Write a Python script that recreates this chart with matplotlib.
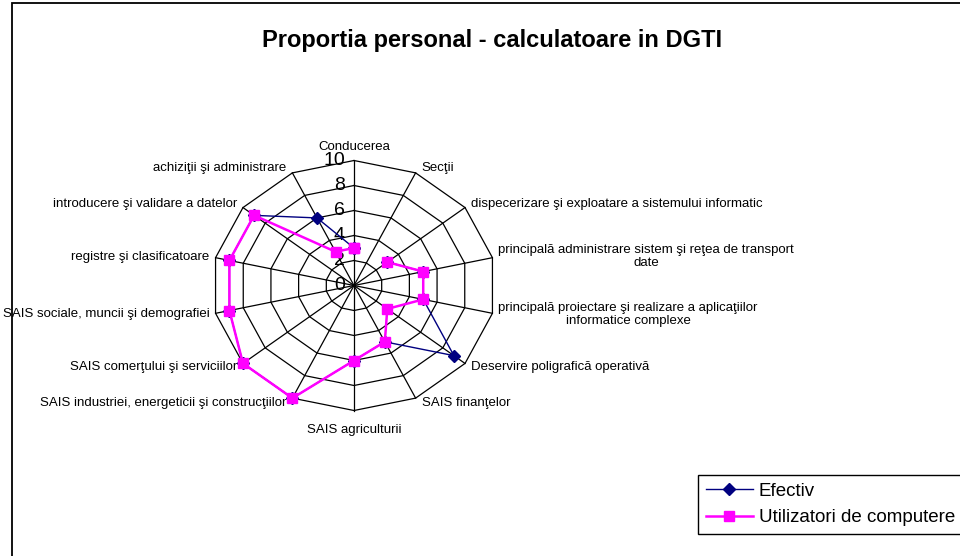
import numpy as np
import matplotlib
matplotlib.use('Agg')
import matplotlib.pyplot as plt
from matplotlib.patches import Rectangle
from matplotlib.lines import Line2D

categories = [
    "Conducerea",
    "Secţii",
    "dispecerizare şi exploatare a sistemului informatic",
    "principală administrare sistem şi reţea de transport\ndate",
    "principală proiectare şi realizare a aplicaţiilor\ninformatice complexe",
    "Deservire poligrafică operativă",
    "SAIS finanţelor",
    "SAIS agriculturii",
    "SAIS industriei, energeticii şi construcţiilor",
    "SAIS comerţului şi serviciilor",
    "SAIS sociale, muncii şi demografiei",
    "registre şi clasificatoare",
    "introducere şi validare a datelor",
    "achiziţii şi administrare",
]
# Secţii has no value (gap in the lines)
efectiv = [3, None, 3, 5, 5, 9, 5, 6, 10, 10, 9, 9, 9, 6]
utilizatori = [3, None, 3, 5, 5, 3, 5, 6, 10, 10, 9, 9, 9, 3]
tick_values = [0, 2, 4, 6, 8, 10]
series_names = ["Efectiv", "Utilizatori de computere"]
title = "Proportia personal - calculatoare in DGTI"

plt.rcParams['font.family'] = ['Liberation Sans', 'DejaVu Sans']

W, H = 960, 556
fig = plt.figure(figsize=(W / 100, H / 100), dpi=100)
fig.patch.set_facecolor('white')

cx, cy, rx, ry = 354, 285.5, 142, 125
ax = fig.add_axes([(cx - rx) / W, (H - cy - ry) / H, 2 * rx / W, 2 * ry / H])
vmax = tick_values[-1]
ax.set_xlim(-vmax, vmax)
ax.set_ylim(-vmax, vmax)
ax.axis('off')

n = len(categories)
theta = 2 * np.pi * np.arange(n) / n
s, c = np.sin(theta), np.cos(theta)


def xy(vals):
    v = np.array([np.nan if a is None else a for a in vals], float)
    return v * s, v * c


# grid rings
for t in tick_values[1:]:
    x, y = xy([t] * n)
    ax.plot(np.append(x, x[0]), np.append(y, y[0]), color='black', lw=0.9,
            zorder=1, clip_on=False)
# spokes
for i in range(n):
    ax.plot([0, vmax * s[i]], [0, vmax * c[i]], color='black', lw=0.9,
            zorder=1, clip_on=False)

# radial tick labels
for t in tick_values:
    ax.annotate(str(t), xy=(0, t), xytext=(-9, 0), textcoords='offset pixels',
                ha='right', va='center', fontsize=14, zorder=2,
                annotation_clip=False)

# series
colors = ['#000080', '#FF00FF']
markers = ['D', 's']
msizes = [6.5, 7]
lws = [1.0, 1.8]
for vals, col, mk, ms, lw in zip([efectiv, utilizatori], colors, markers, msizes, lws):
    x, y = xy(vals)
    ax.plot(np.append(x, x[0]), np.append(y, y[0]), color=col, lw=lw,
            marker=mk, markersize=ms, markerfacecolor=col, markeredgecolor=col,
            zorder=3, clip_on=False)

# category labels
for i, lab in enumerate(categories):
    if s[i] > 0.05:
        ha = 'left'
    elif s[i] < -0.05:
        ha = 'right'
    else:
        ha = 'center'
    if c[i] > 0.99:
        va, dx, dy = 'bottom', 0, 8
    elif c[i] < -0.99:
        va, dx, dy = 'top', 0, -13
    else:
        va = 'center'
        dx = 6 * np.sign(s[i])
        dy = 5 * c[i]
    ax.annotate(lab, xy=(vmax * s[i], vmax * c[i]), xytext=(dx, dy),
                textcoords='offset pixels', ha=ha, va=va, fontsize=9.5,
                multialignment='center', annotation_clip=False, zorder=2)

# title
fig.text(492 / W, 1 - 40 / H, title, ha='center', va='center',
         fontsize=17, fontweight='bold')

# border
fig.add_artist(Rectangle((12 / W, -0.05), 1.2, 1.05 - 3 / H,
                         transform=fig.transFigure, fill=False,
                         edgecolor='black', lw=1.3))

# legend
handles = [Line2D([], [], color=col, lw=lw, marker=mk, markersize=ms,
                  markerfacecolor=col, markeredgecolor=col)
           for col, mk, ms, lw in zip(colors, markers, msizes, lws)]
leg = fig.legend(handles, series_names, loc='upper left',
                 bbox_to_anchor=(698 / W, 1 - 475 / H), fontsize=13.5,
                 frameon=True, fancybox=False, edgecolor='black', framealpha=1,
                 handlelength=2.55, handletextpad=0.3, borderpad=0.4,
                 labelspacing=0.5, borderaxespad=0)
leg.get_frame().set_linewidth(1.0)

fig.savefig('out.png', dpi=100, facecolor='white')
